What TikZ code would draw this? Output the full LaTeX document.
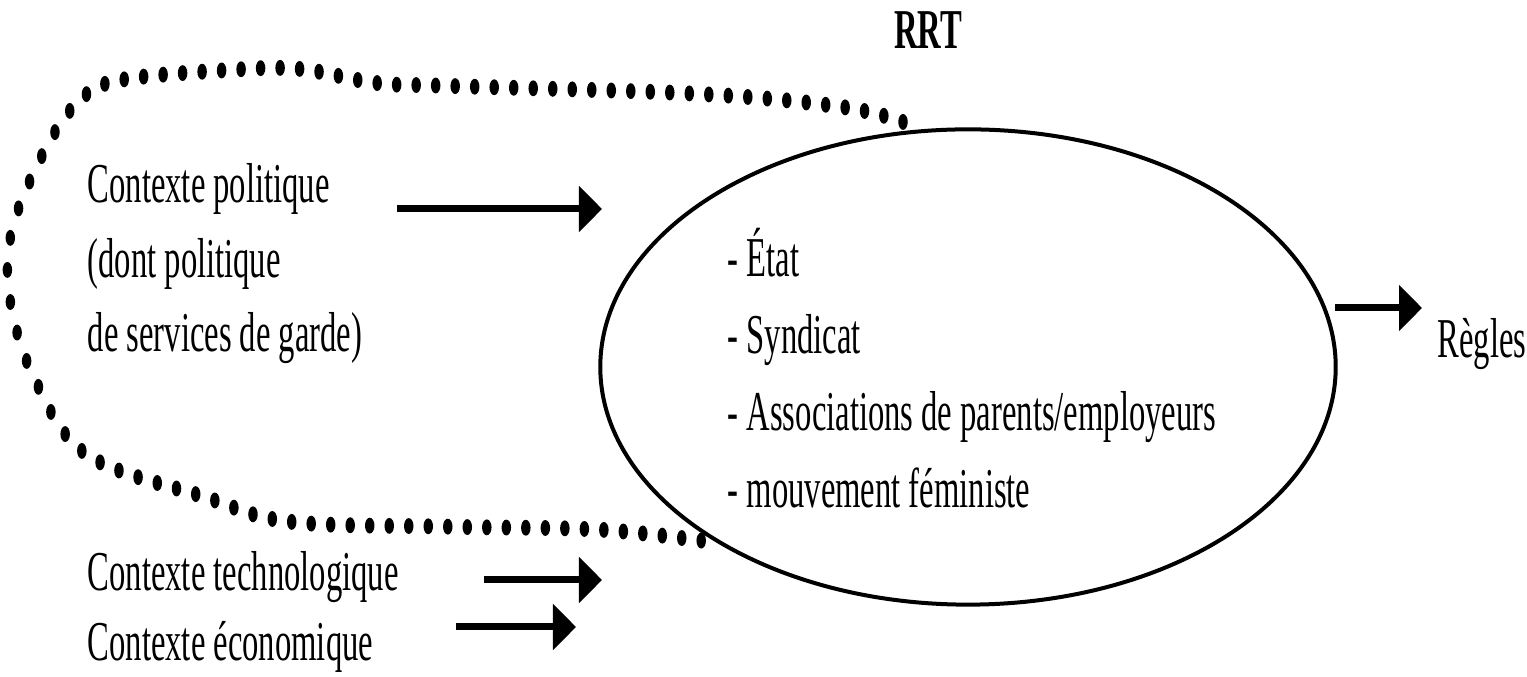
\documentclass[tikz,border=0pt]{standalone}
\usepackage{fontspec}
\setmainfont{Liberation Serif}[FakeStretch=0.58]
\usetikzlibrary{
		arrows.meta,
		shapes.geometric,
		positioning
	}
\tikzset{
		>={Triangle[length=0.23cm, width=0.45cm]}
	}
\newcommand{\txtsize}{\fontsize{16pt}{21.3pt}\selectfont}

\begin{document}
\begin{tikzpicture}[x=0.01cm, y=-0.01cm,
		lbl/.style={inner sep=0pt, anchor=base west, align=left, font=\txtsize},
		arr/.style={->, line width=0.07cm},
		dotline/.style={line width=0.095cm, line cap=round, dash pattern=on 0pt off 0.195cm}]
		\useasboundingbox (0,0) rectangle (1527,677);
		% le RRT
		\node[draw, ellipse, line width=0.04cm, minimum width=7.35cm, minimum height=4.75cm] (rrt) at (968,367) {};
		\node[inner sep=0pt, anchor=base, font=\txtsize\bfseries] (rrttitre) at (928,49) {RRT};
		\node[lbl, font=\fontsize{16pt}{21.9pt}\selectfont] (acteurs) at (727,508)
			{- État\\- Syndicat\\- Associations de parents/employeurs\\- mouvement féministe};
		\node[lbl] (regles) at (1437,358) {Règles};
		% les contextes
		\node[lbl] (ctxpol) at (87,352) {Contexte politique\\(dont politique\\de services de garde)};
		\node[lbl] (ctxtech) at (87,591) {Contexte technologique};
		\node[lbl] (ctxeco) at (87,661) {Contexte économique};
		\coordinate (polA) at (397,209);  \coordinate (polB) at (602,209);
		\coordinate (techA) at (484,580); \coordinate (techB) at (602,580);
		\coordinate (ecoA) at (456,627);  \coordinate (ecoB) at (576,627);
		\coordinate (regA) at (1335,308); \coordinate (regB) at (1422,308);
		\draw[arr] (polA) -- (polB);
		\draw[arr] (techA) -- (techB);
		\draw[arr] (ecoA) -- (ecoB);
		\draw[arr] (regA) -- (regB);
		% contour pointille (etire en hauteur)
		\begin{scope}[transform canvas={yscale=1.67}, y=-0.005988cm]
			\draw[dotline] plot[smooth, tension=0.6] coordinates {(903,122) (842,107) (700,94) (450,86) (376,83)
				(300,69) (230,70) (121,80) (80,100) (45,150) (12,230) (10,300) (35,380) (87,455)
				(204,497) (290,522) (450,527) (600,530) (709,542)};
		\end{scope}
\end{tikzpicture}
\end{document}
